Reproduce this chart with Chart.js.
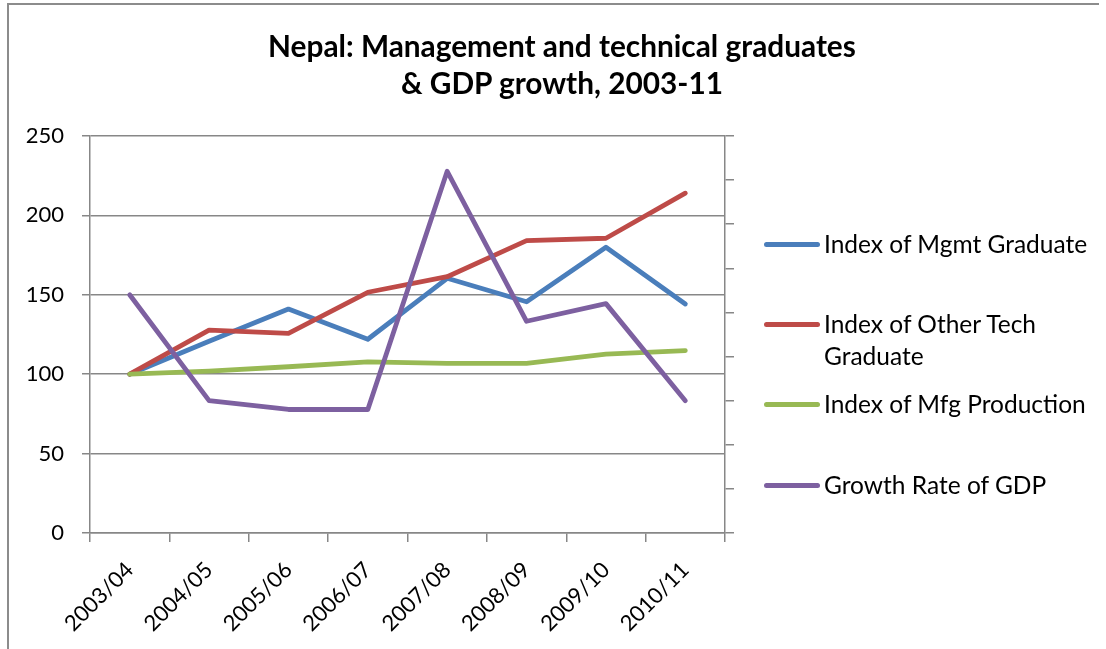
<!DOCTYPE html>
<html>
<head>
<meta charset="utf-8">
<title>Nepal: Management and technical graduates & GDP growth, 2003-11</title>
<script src="https://cdn.jsdelivr.net/npm/chart.js@4.4.1/dist/chart.umd.min.js"></script>
<style>
    body { margin: 0; background: #fff; font-family: Lato, 'Open Sans', sans-serif; }
    #page { position: relative; width: 1106px; height: 649px; overflow: hidden; }
    #frame {
        position: absolute; left: 7px; top: 3px; width: 1090px; height: 700px;
        border-left: 2px solid #8c8c8c; border-top: 2px solid #8c8c8c;
    }
    #chartBox { position: absolute; left: 0; top: 0; width: 1106px; height: 649px; }
    #title {
        position: absolute; left: 162px; width: 800px; top: 27px;
        text-align: center; font-weight: bold; font-size: 29.8px; line-height: 37px; color: #000;
    }
    .legend-item { position: absolute; left: 764px; display: flex; align-items: flex-start; }
    .legend-swatch { width: 56px; height: 5px; border-radius: 3px; margin-top: 14px; }
    .legend-text { margin-left: 4px; font-size: 24.5px; line-height: 32px; color: #000; white-space: nowrap; }
</style>
</head>
<body>
<div id="page">
    <div id="frame"></div>
    <div id="chartBox"><canvas id="gradChart" width="1106" height="649"></canvas></div>
    <div id="title">Nepal: Management and technical graduates<br>&amp; GDP growth, 2003-11</div>
    <div id="legend"></div>
</div>
<script>
// Chart data
const categories = ['2003/04', '2004/05', '2005/06', '2006/07', '2007/08', '2008/09', '2009/10', '2010/11'];
const mgmtGraduates = [100, 120.7, 141, 122, 160.4, 145.6, 179.9, 144.2];
const otherTechGraduates = [100, 127.8, 125.7, 151.6, 161.4, 184.1, 185.6, 214];
const mfgProduction = [100, 101.9, 104.7, 107.8, 106.8, 106.8, 112.7, 114.8];
const gdpGrowth = [4.7, 3.5, 3.4, 3.4, 6.1, 4.4, 4.6, 3.5];
const leftTicks = [0, 50, 100, 150, 200, 250];
const rightTicks = [2, 2.5, 3, 3.5, 4, 4.5, 5, 5.5, 6, 6.5];

const axisGray = '#878787';

const seriesList = [
    { label: 'Index of Mgmt Graduate', data: mgmtGraduates, color: '#4a7ebb', axis: 'y', order: 4 },
    { label: ['Index of Other Tech', 'Graduate'], data: otherTechGraduates, color: '#be4b48', axis: 'y', order: 3 },
    { label: 'Index of Mfg Production', data: mfgProduction, color: '#98b954', axis: 'y', order: 2 },
    { label: 'Growth Rate of GDP', data: gdpGrowth, color: '#7d60a0', axis: 'y2', order: 1 }
];

// Legend rows (top of each row, px)
const legendTops = [228, 308, 388, 469];

function buildLegend() {
    const legend = document.getElementById('legend');
    seriesList.forEach((s, i) => {
        const item = document.createElement('div');
        item.className = 'legend-item';
        item.style.top = legendTops[i] + 'px';
        const swatch = document.createElement('div');
        swatch.className = 'legend-swatch';
        swatch.style.background = s.color;
        const text = document.createElement('div');
        text.className = 'legend-text';
        text.innerHTML = [].concat(s.label).join('<br>');
        item.appendChild(swatch);
        item.appendChild(text);
        legend.appendChild(item);
    });
}

function initChart() {
    const ctx = document.getElementById('gradChart').getContext('2d');
    const tickFont = { family: 'Lato', size: 22 };

    new Chart(ctx, {
        type: 'line',
        data: {
            labels: categories,
            datasets: seriesList.map(s => ({
                label: [].concat(s.label).join(' '),
                data: s.data,
                yAxisID: s.axis,
                order: s.order,
                borderColor: s.color,
                backgroundColor: s.color,
                borderWidth: 4.8,
                borderCapStyle: 'round',
                borderJoinStyle: 'round',
                pointRadius: 0,
                tension: 0,
                fill: false
            }))
        },
        options: {
            responsive: false,
            animation: false,
            layout: { padding: { top: 136, left: 0, right: 371, bottom: 0 } },
            plugins: {
                legend: { display: false },
                title: { display: false },
                tooltip: { enabled: false }
            },
            scales: {
                x: {
                    offset: true,
                    grid: { display: true, offset: true, drawOnChartArea: false, tickLength: 9, color: axisGray, lineWidth: 1.5 },
                    border: { color: axisGray, width: 1.5 },
                    ticks: { color: '#000', font: tickFont, minRotation: 45, maxRotation: 45, padding: 15, autoSkip: false },
                    afterFit: s => { s.height = 116; }
                },
                y: {
                    position: 'left',
                    min: 0,
                    max: 250,
                    grid: { color: axisGray, lineWidth: 1.5, tickLength: 8 },
                    border: { color: axisGray, width: 1.5 },
                    ticks: { color: '#000', font: tickFont, padding: 18 },
                    afterBuildTicks: s => { s.ticks = leftTicks.map(v => ({ value: v })); },
                    afterFit: s => { s.width = 90; }
                },
                y2: {
                    position: 'right',
                    min: 2,
                    max: 6.5,
                    grid: { drawOnChartArea: false, color: axisGray, lineWidth: 1.5, tickLength: 9 },
                    border: { color: axisGray, width: 1.5 },
                    ticks: { display: false },
                    afterBuildTicks: s => { s.ticks = rightTicks.map(v => ({ value: v })); },
                    afterFit: s => { s.width = 10; }
                }
            }
        }
    });
}

document.addEventListener('DOMContentLoaded', function() {
    buildLegend();
    initChart();
});
</script>
</body>
</html>
